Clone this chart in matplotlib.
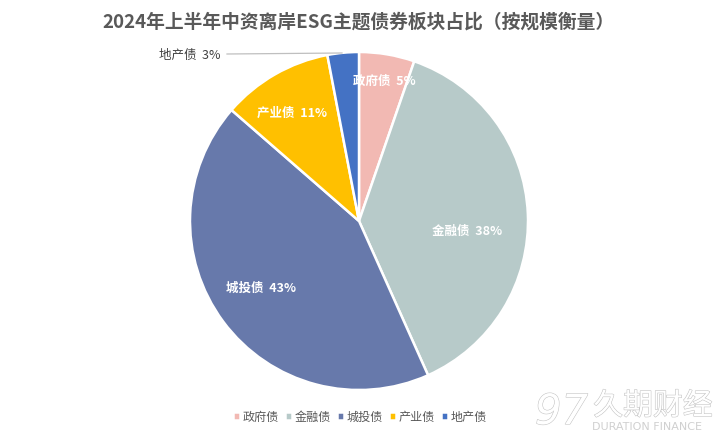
import matplotlib
matplotlib.use("Agg")
import matplotlib.pyplot as plt
import matplotlib.patheffects as pe

plt.rcParams["font.family"] = ["Noto Sans CJK SC", "DejaVu Sans"]

W, H = 718, 436

title = "2024年上半年中资离岸ESG主题债券板块占比（按规模衡量）"
sectors = ["政府债", "金融债", "城投债", "产业债", "地产债"]
shares = [5.3, 38.0, 43.1, 10.6, 3.0]
colors = ["#F2B9B3", "#B7CAC9", "#6779AB", "#FFC000", "#4472C4"]

# label centres in picture pixels (x, y from top)
label_xy = [(384, 81), (467, 231), (261, 288), (292, 113)]
label_colors = ["white", "white", "white", "white"]

fig = plt.figure(figsize=(W / 100, H / 100), dpi=100)
ax = fig.add_axes([0, 0, 1, 1])

wedges, _ = ax.pie(
    shares,
    colors=colors,
    startangle=90,
    counterclock=False,
    center=(359, H - 221),
    radius=169,
    frame=True,
    wedgeprops={"edgecolor": "white", "linewidth": 1.8},
)
ax.set_xlim(0, W)
ax.set_ylim(0, H)
ax.set_aspect("equal")
ax.axis("off")

ax.text(358, H - 22, title, ha="center", va="center", fontsize=13.5,
        fontweight="bold", color="#595959")

for (x, y), name, v, c in zip(label_xy, sectors, shares, label_colors):
    ax.text(x, H - y, f"{name}  {round(v)}%", ha="center", va="center",
            fontsize=9, fontweight="bold", color=c)

# outside label with leader line for the smallest slice
ax.text(190, H - 55, f"{sectors[4]}  {round(shares[4])}%", ha="center", va="center",
        fontsize=9, fontweight="medium", color="#404040")
ax.plot([227, 342], [H - 54, H - 53], color="#BFBFBF", lw=0.9)

ax.legend(
    wedges, sectors, ncol=5, loc="center", bbox_to_anchor=(360 / W, 1 - 417 / H),
    frameon=False, fontsize=8.7, labelcolor="#595959",
    handlelength=0.6, handleheight=0.6, handletextpad=0.2,
    columnspacing=0.5, borderpad=0,
)

# watermark
halo = [pe.withStroke(linewidth=0.8, foreground="#C4C4C4")]
ax.text(535, H - 412, "97", ha="left", va="center", fontsize=30, style="italic",
        family=["DejaVu Sans"], color="white", path_effects=halo)
ax.text(653, H - 406, "久期财经", ha="center", va="center", fontsize=21.5,
        color="white", path_effects=halo)
ax.text(647, H - 427, "DURATION FINANCE", ha="center", va="center", fontsize=8,
        color="#D0D0D0", family=["DejaVu Sans"])

fig.savefig("out.png", dpi=100)
